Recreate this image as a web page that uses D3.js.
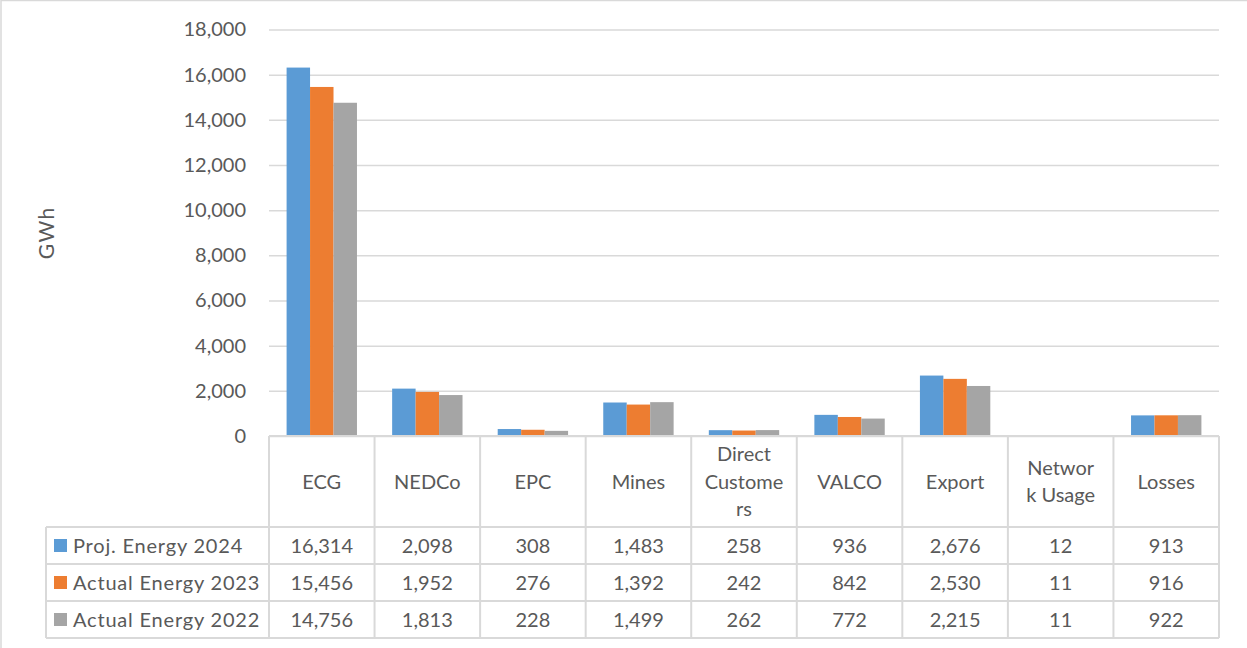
<!DOCTYPE html>
<html>
<head>
<meta charset="utf-8">
<script src="https://cdn.jsdelivr.net/npm/d3@7"></script>
<style>
  html, body { margin: 0; padding: 0; background: #fff; }
  svg { display: block; }
  text { font-family: "Lato", "Open Sans", sans-serif; fill: #595959; }
</style>
</head>
<body>
<svg id="chart" width="1247" height="648"></svg>
<script>
// ---- data ----
const categories = ["ECG", "NEDCo", "EPC", "Mines", "Direct Customers", "VALCO", "Export", "Network Usage", "Losses"];
const categoryLines = [["ECG"], ["NEDCo"], ["EPC"], ["Mines"], ["Direct", "Custome", "rs"], ["VALCO"], ["Export"], ["Networ", "k Usage"], ["Losses"]];
const seriesNames = ["Proj. Energy 2024", "Actual Energy 2023", "Actual Energy 2022"];
const proj2024   = [16314, 2098, 308, 1483, 258, 936, 2676, 12, 913];
const actual2023 = [15456, 1952, 276, 1392, 242, 842, 2530, 11, 916];
const actual2022 = [14756, 1813, 228, 1499, 262, 772, 2215, 11, 922];
const seriesColors = ["#5B9BD5", "#ED7D31", "#A5A5A5"];
const yTicks = [0, 2000, 4000, 6000, 8000, 10000, 12000, 14000, 16000, 18000];
const yLabel = "GWh";

const seriesValues = [proj2024, actual2023, actual2022];

const svg = d3.select("#chart");
const grid = "#D9D9D9";

// outer chart border (top/left visible)
svg.append("rect").attr("x", 1).attr("y", 0.5).attr("width", 1260).attr("height", 660)
  .attr("fill", "none").attr("stroke", grid).attr("stroke-width", 1.5);

const plotLeft = 269, plotRight = 1219, plotTop = 29.5, plotBottom = 436;

const x = d3.scaleBand().domain(categories).range([plotLeft, plotRight]).paddingInner(0).paddingOuter(0);
const x1 = d3.scaleBand().domain(seriesNames).range([0, x.bandwidth()]).paddingInner(0).paddingOuter(0.75);
const y = d3.scaleLinear().domain([0, 18000]).range([plotBottom, plotTop]);

// gridlines + tick labels via axis
const yAxis = d3.axisLeft(y).tickValues(yTicks).tickSize(-(plotRight - plotLeft)).tickPadding(23)
  .tickFormat(d3.format(","));
const gy = svg.append("g").attr("transform", `translate(${plotLeft},0)`).call(yAxis);
gy.select(".domain").remove();
gy.selectAll(".tick line").attr("stroke", grid).attr("stroke-width", 1.5);
gy.selectAll(".tick text").attr("font-size", 20).style("fill", "#595959")
  .attr("font-family", "Lato, sans-serif");

// y label
svg.append("text").attr("transform", `translate(54,${(plotTop + plotBottom) / 2}) rotate(-90)`)
  .attr("text-anchor", "middle").attr("font-size", 21).attr("letter-spacing", 1.5).text(yLabel);

// bars
const data = categories.map((c, i) => ({ cat: c, vals: seriesNames.map((s, j) => ({ s, v: seriesValues[j][i], color: seriesColors[j] })) }));
const groups = svg.append("g").selectAll("g").data(data).join("g")
  .attr("transform", d => `translate(${x(d.cat)},0)`);
groups.selectAll("rect").data(d => d.vals).join("rect")
  .attr("x", d => x1(d.s)).attr("width", x1.bandwidth())
  .attr("y", d => y(d.v)).attr("height", d => y(0) - y(d.v))
  .attr("fill", d => d.color);

// data table
const headerBottom = 527, rowH = 37, legendLeft = 46;
const tableBottom = headerBottom + rowH * seriesNames.length;
const tg = svg.append("g");
// horizontal lines
tg.append("line").attr("x1", plotLeft).attr("x2", plotRight).attr("y1", plotBottom).attr("y2", plotBottom)
  .attr("stroke", grid).attr("stroke-width", 2);
for (let r = 0; r <= seriesNames.length; r++) {
  const yy = headerBottom + r * rowH;
  tg.append("line").attr("x1", legendLeft).attr("x2", plotRight).attr("y1", yy).attr("y2", yy)
    .attr("stroke", grid).attr("stroke-width", 2);
}
// vertical lines
tg.append("line").attr("x1", legendLeft).attr("x2", legendLeft).attr("y1", headerBottom).attr("y2", tableBottom)
  .attr("stroke", grid).attr("stroke-width", 2);
categories.forEach(c => {
  tg.append("line").attr("x1", x(c)).attr("x2", x(c)).attr("y1", plotBottom).attr("y2", tableBottom)
    .attr("stroke", grid).attr("stroke-width", 2);
});
tg.append("line").attr("x1", plotRight).attr("x2", plotRight).attr("y1", plotBottom).attr("y2", tableBottom)
  .attr("stroke", grid).attr("stroke-width", 2);

// header labels
const headerMid = (plotBottom + headerBottom) / 2;
const lineH = 27.5;
categories.forEach((c, i) => {
  const lines = categoryLines[i];
  const t = tg.append("text").attr("text-anchor", "middle").attr("font-size", 20);
  lines.forEach((ln, k) => {
    t.append("tspan").attr("x", x(c) + x.bandwidth() / 2)
      .attr("y", headerMid + (k - (lines.length - 1) / 2) * lineH)
      .attr("dy", "0.35em").text(ln);
  });
});

// rows
const fmt = d3.format(",");
seriesNames.forEach((s, j) => {
  const cy = headerBottom + j * rowH + rowH / 2;
  tg.append("rect").attr("x", 54).attr("y", cy - 6.5).attr("width", 13).attr("height", 13).attr("fill", seriesColors[j]);
  tg.append("text").attr("x", 73).attr("y", cy).attr("dy", "0.35em").attr("font-size", 20)
    .attr("letter-spacing", 0.8).text(s);
  categories.forEach((c, i) => {
    tg.append("text").attr("x", x(c) + x.bandwidth() / 2).attr("y", cy).attr("dy", "0.35em")
      .attr("text-anchor", "middle").attr("font-size", 20).text(fmt(seriesValues[j][i]));
  });
});
</script>
</body>
</html>
